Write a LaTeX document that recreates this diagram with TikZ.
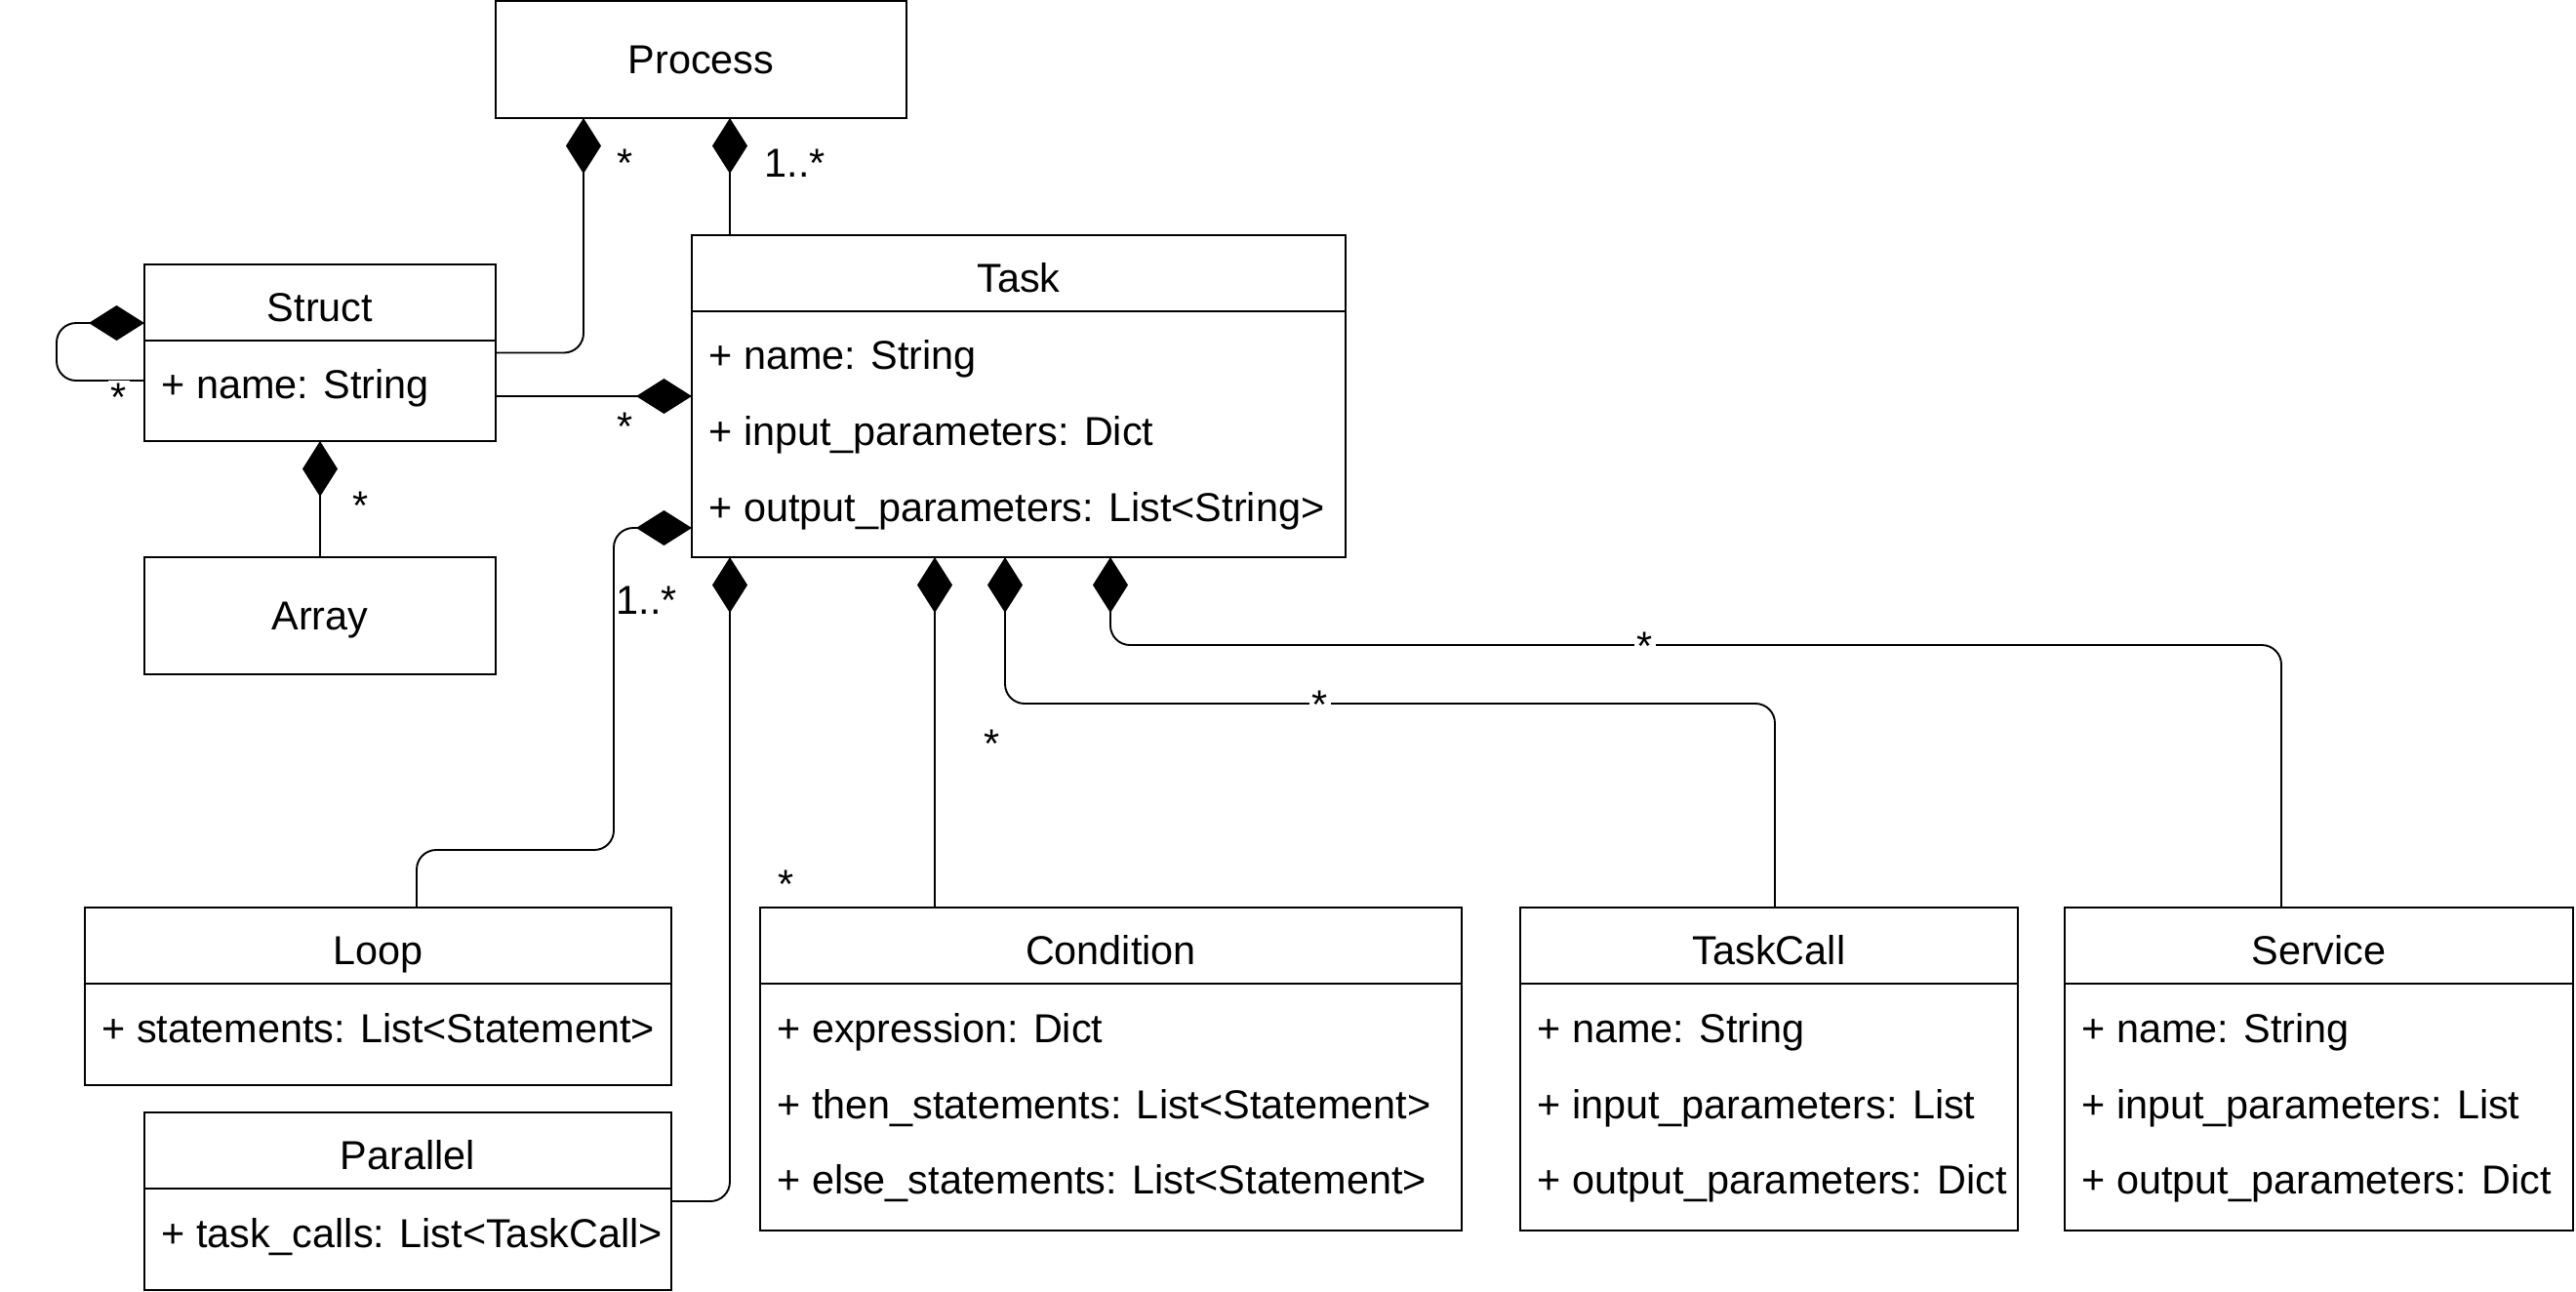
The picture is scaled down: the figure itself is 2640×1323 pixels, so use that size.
\documentclass[tikz,border=0pt]{standalone}
\usepackage{fontspec}
\setmainfont{Liberation Sans}
\usetikzlibrary{arrows.meta,calc}
\begin{document}
\begin{tikzpicture}[x=0.5pt,y=-0.5pt,
  box/.style={draw, line width=1.4pt, outer sep=0pt, inner sep=0pt, anchor=north west},
  ttl/.style={anchor=base, inner sep=0pt},
  attr/.style={anchor=base west, inner sep=0pt},
  mult/.style={anchor=base, inner sep=0pt},
  multw/.style={anchor=base, inner sep=1.5pt, fill=white},
  comp/.style={line width=0.95pt, rounded corners=10pt, {Diamond[length=28.5pt,width=18pt]}-},
  divl/.style={line width=1.4pt},
  font=\fontsize{20.7pt}{24pt}\selectfont]
\useasboundingbox (0,0) rectangle (2640,1323);

% boxes
\node[box, minimum width=210.5pt, minimum height=60pt] (process) at (508,1) {};
\node[box, minimum width=335pt, minimum height=165pt] (task) at (709,241) {};
\node[box, minimum width=180pt, minimum height=90.5pt] (struct) at (148,271) {};
\node[box, minimum width=180pt, minimum height=60pt] (array) at (148,571) {};
\node[box, minimum width=300.5pt, minimum height=91pt] (loop) at (87,930) {};
\node[box, minimum width=270pt, minimum height=91pt] (parallel) at (148,1140) {};
\node[box, minimum width=359.5pt, minimum height=165.5pt] (condition) at (779,930) {};
\node[box, minimum width=255pt, minimum height=165.5pt] (taskcall) at (1558,930) {};
\node[box, minimum width=260.5pt, minimum height=165.5pt] (service) at (2116,930) {};

% header dividers
\foreach \n in {task,struct,loop,parallel,condition,taskcall,service}
  \draw[divl] ([yshift=-39pt]\n.north west) -- ([yshift=-39pt]\n.north east);

% titles
\node[ttl] (tProcess) at (718.5,75) {Process};
\node[ttl] (tTask) at (1044,299.5) {Task};
\node[ttl] (tStruct) at (328,329) {Struct};
\node[ttl] (tArray) at (328,645) {Array};
\node[ttl] (tLoop) at (387.5,988) {Loop};
\node[ttl] (tParallel) at (418,1198) {Parallel};
\node[ttl] (tCondition) at (1138.5,988) {Condition};
\node[ttl] (tTaskCall) at (1813,988) {TaskCall};
\node[ttl] (tService) at (2376.5,988) {Service};

% attributes
\node[attr] (a1) at (726,378) {+ name: String};
\node[attr] (a2) at (726,456) {+ input\_parameters: Dict};
\node[attr] (a3) at (726,534) {+ output\_parameters: List<String>};
\node[attr] (a4) at (165,408) {+ name: String};
\node[attr] (a5) at (104,1068) {+ statements: List<Statement>};
\node[attr] (a6) at (165,1278) {+ task\_calls: List<TaskCall>};
\node[attr] (a7) at (796,1068) {+ expression: Dict};
\node[attr] (a8) at (796,1146) {+ then\_statements: List<Statement>};
\node[attr] (a9) at (796,1223) {+ else\_statements: List<Statement>};
\node[attr] (a10) at (1575,1068) {+ name: String};
\node[attr] (a11) at (1575,1146) {+ input\_parameters: List};
\node[attr] (a12) at (1575,1223) {+ output\_parameters: Dict};
\node[attr] (a13) at (2133,1068) {+ name: String};
\node[attr] (a14) at (2133,1146) {+ input\_parameters: List};
\node[attr] (a15) at (2133,1223) {+ output\_parameters: Dict};

% connectors
\draw[comp] ([xshift=45pt]process.south west) |- (struct.east);
\draw[comp] ([xshift=120pt]process.south west) -- ([xshift=19.5pt]task.north west);
\draw[comp] (task.west) -- (task.west -| struct.east);
\draw[comp] ([yshift=-30pt]struct.north west) -- ++(-90,0) -- ++(0,59) -- ([yshift=-59.5pt]struct.north west);
\draw[comp] (struct.south) -- (array.north);
\draw[comp] ([yshift=-150pt]task.north west) -- ++(-80,0) -- ++(0,330) -| ([xshift=170pt]loop.north west);
\draw[comp] ([xshift=19.5pt]task.south west) |- (parallel.east);
\coordinate (cA) at ([xshift=124.5pt]task.south west);
\draw[comp] (cA) -- (cA |- condition.north);
\draw[comp] ([xshift=160.5pt]task.south west) -- ++(0,150) -| ([xshift=130.5pt]taskcall.north west);
\draw[comp] ([xshift=214.5pt]task.south west) -- ++(0,90) -| ([xshift=111pt]service.north west);

% multiplicities
\node[mult] (m1) at (641,181) {*};
\node[mult] (m2) at (815,181) {1..*};
\node[mult] (m3) at (641,451) {*};
\node[multw] (m4) at (122,421) {*};
\node[mult] (m5) at (370,532) {*};
\node[mult] (m6) at (663,629) {1..*};
\node[mult] (m7) at (806,920) {*};
\node[mult] (m8) at (1017,776) {*};
\node[multw] (m9) at (1353,736) {*};
\node[multw] (m10) at (1686,676) {*};
\end{tikzpicture}
\end{document}
